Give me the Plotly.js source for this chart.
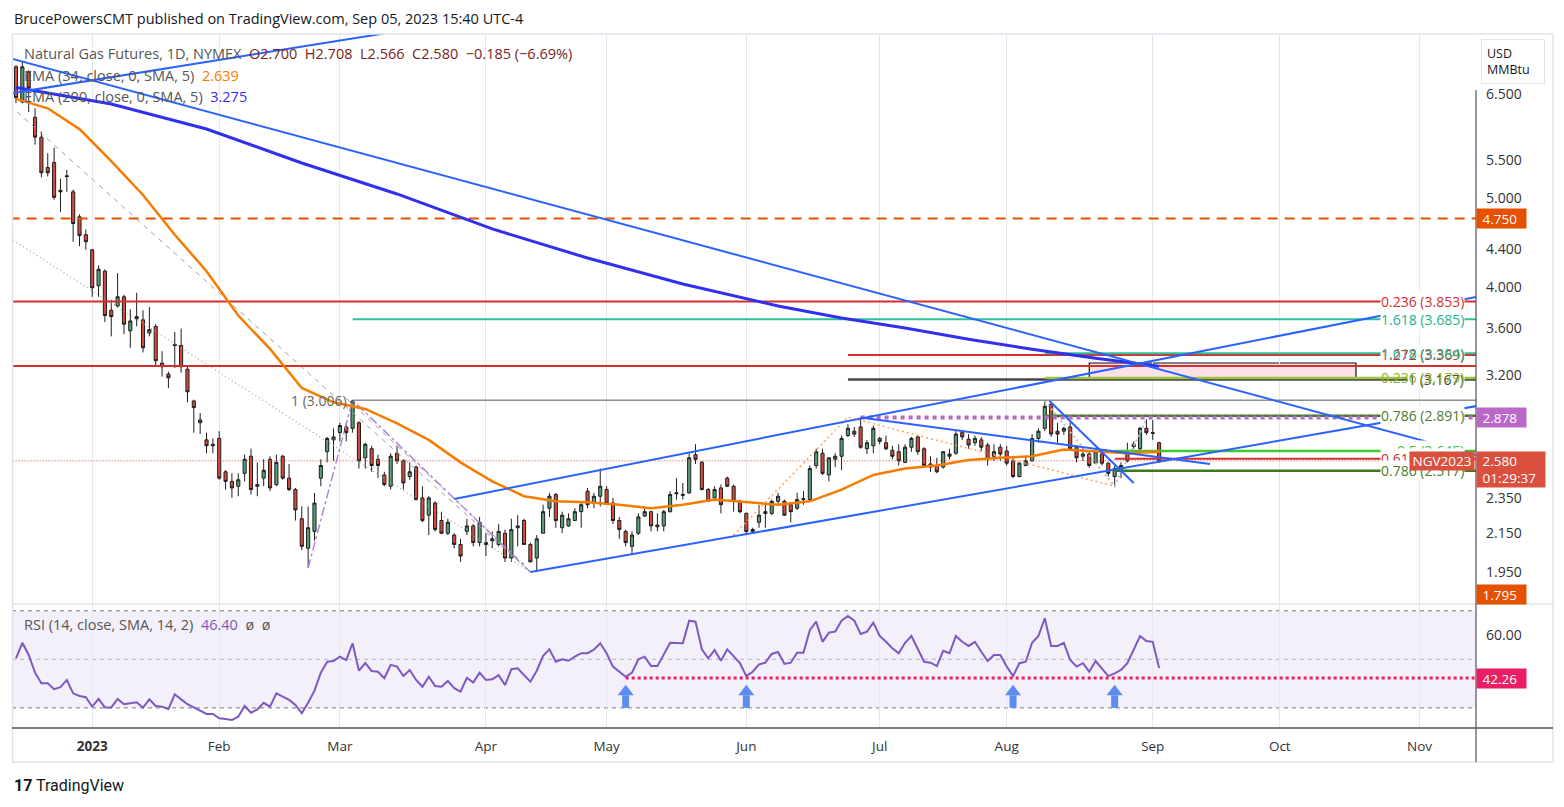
<!DOCTYPE html>
<html><head><meta charset="utf-8">
<script src="https://cdn.plot.ly/plotly-3.0.1.min.js"></script>
<style>html,body{margin:0;padding:0;background:#fff;}#chart{width:1564px;height:807px;}</style>
</head><body><div id="chart"></div>
<script>
// ---------- DATA ----------
const holidays = ['2022-12-26','2023-01-02','2023-01-16','2023-02-20','2023-04-07','2023-05-29','2023-06-19','2023-07-04','2023-09-04'];
const firstBar = '2022-12-14';
// daily OHLC, NGV2023 (Dec 14 2022 .. Sep 5 2023)
const open = [
 6.96,6.37,6.87,6.13,5.83,5.40,5.47,5.10,5.29,5.08,4.77,4.56,
 4.39,4.01,4.16,3.77,3.81,3.90,3.58,3.69,3.68,3.56,3.62,3.30,3.21,3.46,3.45,3.25,3.00,2.86,2.72,2.69,
 2.73,2.51,2.45,2.42,2.50,2.61,2.42,2.47,2.59,2.43,2.61,2.47,2.40,2.23,2.07,2.16,2.47,2.64,2.72,
 2.77,2.81,2.80,2.84,2.60,2.66,2.59,2.49,2.42,2.63,2.58,2.48,2.54,2.35,2.25,2.32,2.22,2.15,2.14,2.09,2.16,2.19,2.10,
 2.09,2.12,2.09,2.15,2.02,2.18,2.22,2.09,2.02,2.15,2.29,2.37,2.18,2.19,2.22,2.27,2.39,2.32,2.36,
 2.40,2.32,2.22,2.16,2.08,2.15,2.245,2.27,2.185,2.19,2.27,2.375,2.365,2.38,2.62,2.57,2.40,2.35,2.41,2.47,2.42,2.33,
 2.26,2.16,2.21,2.27,2.26,2.33,2.33,2.31,2.29,2.34,2.34,2.55,2.63,2.49,2.59,2.61,2.75,2.78,2.81,2.66,2.68,
 2.73,2.70,2.65,2.64,2.57,2.67,2.74,2.66,2.56,2.55,2.54,2.625,2.63,2.77,2.725,2.70,2.72,2.685,2.61,2.67,
 2.645,2.58,2.48,2.55,2.58,2.73,2.80,2.975,2.78,2.78,2.81,2.67,2.61,2.625,2.565,2.625,2.565,2.48,2.51,2.64,2.69,2.66,2.80,
 2.77,2.700];
const high = [
 6.99,7.05,6.90,6.27,5.91,5.60,5.68,5.25,5.37,5.11,4.80,4.62,
 4.40,4.22,4.18,3.87,4.14,3.92,3.78,3.94,3.77,3.80,3.64,3.40,3.23,3.57,3.60,3.27,3.01,2.91,2.77,2.73,
 2.78,2.52,2.50,2.50,2.62,2.66,2.57,2.59,2.61,2.62,2.62,2.56,2.41,2.30,2.30,2.38,2.59,2.74,2.80,
 2.84,2.84,3.006,2.85,2.70,2.68,2.62,2.51,2.63,2.68,2.59,2.57,2.55,2.42,2.36,2.33,2.27,2.23,2.15,2.12,2.23,2.20,2.24,
 2.15,2.16,2.20,2.17,2.23,2.25,2.23,2.10,2.14,2.31,2.38,2.38,2.27,2.26,2.29,2.32,2.41,2.38,2.53,
 2.42,2.35,2.24,2.17,2.16,2.26,2.30,2.275,2.26,2.28,2.39,2.47,2.44,2.63,2.69,2.58,2.41,2.42,2.43,2.48,2.43,2.34,
 2.265,2.18,2.31,2.32,2.34,2.38,2.34,2.32,2.38,2.39,2.55,2.66,2.66,2.60,2.63,2.75,2.83,2.81,2.878,2.72,2.82,
 2.74,2.75,2.68,2.69,2.69,2.74,2.75,2.67,2.61,2.60,2.645,2.66,2.78,2.78,2.76,2.75,2.74,2.70,2.69,2.69,
 2.68,2.60,2.58,2.61,2.76,2.80,3.00,2.99,2.84,2.81,2.85,2.68,2.665,2.64,2.645,2.64,2.57,2.55,2.57,2.70,2.71,2.81,2.865,
 2.86,2.708];
const low = [
 6.35,6.35,6.21,5.72,5.27,5.28,4.98,4.83,5.08,4.48,4.43,4.39,
 3.90,3.90,3.66,3.53,3.80,3.55,3.43,3.62,3.39,3.53,3.27,3.19,3.10,3.26,3.22,2.99,2.77,2.76,2.63,2.63,
 2.46,2.40,2.35,2.36,2.45,2.37,2.36,2.42,2.39,2.42,2.46,2.39,2.22,2.06,1.97,2.11,2.42,2.57,2.58,
 2.71,2.71,2.77,2.53,2.53,2.51,2.47,2.42,2.40,2.56,2.40,2.46,2.335,2.21,2.14,2.16,2.145,2.14,2.07,2.00,2.14,2.08,2.08,
 2.03,2.07,2.08,2.00,2.00,2.08,2.09,2.00,1.95,2.15,2.24,2.18,2.15,2.185,2.22,2.18,2.29,2.29,2.30,
 2.31,2.20,2.12,2.08,2.04,2.14,2.24,2.16,2.16,2.16,2.265,2.34,2.34,2.375,2.56,2.395,2.325,2.33,2.26,2.415,2.27,2.26,
 2.15,2.155,2.18,2.18,2.25,2.31,2.245,2.21,2.28,2.31,2.335,2.53,2.49,2.45,2.54,2.52,2.74,2.74,2.66,2.625,2.63,
 2.69,2.65,2.59,2.55,2.565,2.64,2.62,2.54,2.51,2.50,2.53,2.59,2.62,2.72,2.66,2.68,2.645,2.55,2.58,2.58,
 2.55,2.47,2.475,2.545,2.575,2.70,2.78,2.74,2.70,2.755,2.655,2.57,2.58,2.535,2.56,2.55,2.48,2.42,2.47,2.57,2.66,2.65,2.755,
 2.72,2.566];
const close = [
 6.44,6.96,6.60,5.83,5.33,5.33,5.01,5.08,5.28,4.69,4.55,4.48,
 3.99,4.18,3.72,3.71,3.90,3.64,3.67,3.71,3.43,3.59,3.32,3.27,3.18,3.45,3.27,3.07,2.95,2.84,2.68,2.68,
 2.47,2.45,2.41,2.46,2.59,2.40,2.43,2.52,2.41,2.57,2.47,2.40,2.28,2.08,2.18,2.32,2.55,2.73,2.74,
 2.82,2.77,3.00,2.58,2.69,2.55,2.55,2.43,2.61,2.58,2.44,2.51,2.34,2.22,2.35,2.17,2.15,2.21,2.09,2.03,2.19,2.10,2.21,
 2.10,2.11,2.16,2.02,2.17,2.19,2.09,2.00,2.12,2.27,2.36,2.22,2.25,2.23,2.27,2.31,2.31,2.36,2.42,
 2.32,2.22,2.17,2.10,2.14,2.24,2.27,2.19,2.195,2.27,2.37,2.38,2.37,2.60,2.59,2.40,2.33,2.40,2.31,2.42,2.33,2.27,
 2.16,2.17,2.25,2.26,2.33,2.36,2.25,2.27,2.34,2.345,2.53,2.64,2.50,2.60,2.61,2.73,2.80,2.76,2.67,2.70,2.80,
 2.71,2.66,2.61,2.58,2.67,2.73,2.64,2.55,2.54,2.51,2.64,2.61,2.76,2.74,2.685,2.73,2.67,2.59,2.64,2.625,
 2.565,2.48,2.565,2.58,2.73,2.78,2.96,2.76,2.76,2.80,2.66,2.60,2.625,2.55,2.64,2.565,2.50,2.53,2.55,2.58,2.675,2.80,2.77,
 2.765,2.580];
// RSI(14) one value per bar
const rsi = [
 50.4,56.8,51.8,44.5,40.1,40.1,37.7,38.5,41.5,36.0,34.9,34.4,
 30.5,33.7,30.2,30.2,33.7,31.5,31.9,32.3,30.1,33.5,30.8,30.5,29.5,35.6,33.5,31.5,30.2,28.8,27.5,27.5,
 25.7,25.4,25.0,26.4,30.8,28.0,29.4,32.1,30.5,36.0,34.6,33.3,31.2,27.8,32.1,37.1,44.5,49.0,49.3,
 51.1,49.7,56.6,45.3,48.4,45.2,44.9,42.2,47.7,47.0,43.1,45.6,41.5,38.7,42.8,39.0,38.7,41.1,38.1,36.7,42.4,40.4,44.5,
 41.5,41.8,43.5,39.4,45.9,46.3,43.5,40.8,45.3,51.4,54.1,49.0,50.0,49.4,51.1,52.5,52.5,54.0,56.6,
 52.5,47.0,44.9,42.8,44.5,50.0,51.1,47.2,47.2,51.8,56.8,56.7,56.6,65.9,65.5,54.1,50.4,53.8,49.4,54.1,51.1,48.4,
 43.1,44.9,47.9,48.6,52.2,53.0,48.1,48.6,52.7,52.7,62.0,65.5,57.2,61.0,61.4,65.9,67.8,65.9,60.4,61.4,65.1,
 59.6,57.2,54.5,52.5,56.8,59.6,54.5,49.0,48.6,47.2,53.5,52.5,59.6,57.2,55.5,57.2,53.1,49.3,51.8,51.8,
 47.0,43.1,48.4,49.0,56.8,59.6,66.9,55.5,55.5,56.8,49.7,47.0,48.4,44.9,49.3,46.3,43.1,44.2,45.6,48.4,53.8,59.6,57.5,
 57.2,46.4];
// EMA 34 and EMA 200, read at every 5th/10th bar (bar index -> value)
const ema34Bar = [0,5,10,15,20,25,30,35,40,45,50,55,60,65,70,75,80,85,90,95,100,105,110,115,120,125,130,135,140,145,150,155,160,165,170,175,180];
const ema34Val = [6.42,6.27,5.95,5.49,5.04,4.56,4.16,3.72,3.42,3.10,2.99,2.94,2.835,2.72,2.57,2.45,2.36,2.33,2.325,2.31,2.29,2.31,2.34,2.325,2.31,2.33,2.40,2.49,2.53,2.55,2.585,2.60,2.61,2.655,2.645,2.63,2.639];
const ema200Bar = [0,15,30,45,60,75,90,105,120,130,140,150,160,170,180];
const ema200Val = [6.607,6.338,5.951,5.463,5.053,4.627,4.30,4.028,3.811,3.697,3.605,3.504,3.417,3.340,3.275];
// drawn trendlines [date, price]
const lineDescLong   = [['2022-12-13',7.115],['2023-11-14',2.617]];
const lineRiseLeft   = [['2022-12-13',6.508],['2023-03-14',7.61]];
const channelLow     = [['2023-04-13',1.95],['2023-11-14',2.962]];
const channelHigh    = [['2023-03-27',2.344],['2023-11-14',3.90]];
const lineFromJunHigh= [['2023-06-28',2.878],['2023-09-15',2.559]];
const lineFromAugHigh= [['2023-08-09 18:00',3.00],['2023-08-29',2.44]];
const greyDashLong   = [['2022-12-13',6.32],['2023-04-13',1.95]];
const greyDashShort  = [['2023-03-02',3.02],['2023-04-12',1.99]];
const greyDotLong    = [['2022-12-13',4.524],['2023-04-13',1.95]];
const purpleSwing    = [['2023-02-22',1.97],['2023-03-03',3.006],['2023-04-13',1.95]];
const orangeSwing    = [['2023-05-30',2.14],['2023-06-26',2.88],['2023-08-24',2.42]];
const greySwing      = [['2023-08-09',3.00],['2023-08-24',2.42],['2023-08-31',2.866]];
// horizontal levels
const levelPrice = [3.853,3.276,4.750,3.685,3.369,3.384,3.167,3.179,3.006,2.891,2.645,2.594,2.517,2.878,2.580];
const levelStart = ['2022-12-13','2022-12-13','2022-12-13','2023-03-03','2023-06-26','2023-08-09','2023-06-26','2023-08-09','2023-03-03','2023-08-09','2023-08-24','2023-08-24','2023-08-24','2023-06-28','2022-12-13'];
const levelLabel = ['0.236 (3.853)','','','1.618 (3.685)','1.272 (3.369)','1.618 (3.384)','1 (3.167)','0.236 (3.179)','','0.786 (2.891)','0.5 (2.645)','0.618 (2.594)','0.786 (2.517)','',''];
const zoneBox = {x0:'2023-08-18', x1:'2023-10-18', y0:3.179, y1:3.301};
const rsiArrowDates = ['2023-05-04','2023-06-01','2023-08-02','2023-08-24'];
const rsiLevel = 42.26, rsiLevelStart = '2023-05-04';
const lastPrice = 2.580;
const priceTicks = [1.95,2.15,2.35,3.2,3.6,4.0,4.4,5.0,5.5,6.5];
const monthTicks = ['2023-01-03','2023-02-01','2023-03-01','2023-04-03','2023-05-01','2023-06-01','2023-07-03','2023-08-01','2023-09-01','2023-10-02','2023-11-01'];
const monthLabels = ['<b>2023</b>','Feb','Mar','Apr','May','Jun','Jul','Aug','Sep','Oct','Nov'];

// ---------- BUILD ----------
function tradingDays(start, n){
  const out=[]; const d=new Date(start+'T00:00:00Z');
  while(out.length<n){
    const s=d.toISOString().slice(0,10), wd=d.getUTCDay();
    if(wd!==0&&wd!==6&&holidays.indexOf(s)<0) out.push(s);
    d.setUTCDate(d.getUTCDate()+1);
  }
  return out;
}
const dates = tradingDays(firstBar, close.length);
const END = '2023-11-14';
const PX = x => (x-12)/1464, PY = y => (728-y)/694;
const L10 = Math.log10;

const traces = [];
traces.push({type:'candlestick', x:dates, open:open, high:high, low:low, close:close,
  xaxis:'x', yaxis:'y', whiskerwidth:0, hoverinfo:'skip', showlegend:false,
  increasing:{line:{color:'#1e1e1e',width:1}, fillcolor:'#5a9e76'},
  decreasing:{line:{color:'#1e1e1e',width:1}, fillcolor:'#d24a3c'}});

function addLine(pts, color, width, dash, yaxis){
  traces.push({type:'scatter', mode:'lines', x:pts.map(p=>p[0]), y:pts.map(p=>p[1]),
    xaxis:'x', yaxis:yaxis||'y', line:{color:color, width:width, dash:dash||'solid'}, hoverinfo:'skip', showlegend:false});
}
const lvStyle = [
 ['#d32f2f',2,'solid'],['#d32f2f',2,'solid'],['#e65100',2,'10px,7px'],['#2bc29a',2,'solid'],
 ['#d32f2f',2,'solid'],['#2bc29a',2,'solid'],['#444444',2.5,'solid'],['#9dc43c',2.5,'solid'],
 ['#5a5a5a',1,'solid'],['#3c7a1d',2.5,'solid'],['#3ecb2a',2.5,'solid'],['#d32f2f',2,'solid'],
 ['#3c7a1d',2.5,'solid'],['#ba68c8',4,'dot'],['#d24a3c',1,'1px,2px']];
addLine([[levelStart[14],lastPrice],[END,lastPrice]], lvStyle[14][0], lvStyle[14][1], lvStyle[14][2]);
addLine(greyDotLong,'#a0a0a0',1.2,'1px,3px');
addLine(greyDashLong,'#a0a0a0',1,'5px,5px');
addLine(greyDashShort,'#a0a0a0',1,'5px,5px');
addLine(purpleSwing,'#b286d8',1.5,'dashdot');
addLine(orangeSwing,'#ffa25e',1.5,'2px,3px');
addLine(greySwing,'#bdbdbd',2,'2px,3px');
for(let i=0;i<14;i++) addLine([[levelStart[i],levelPrice[i]],[END,levelPrice[i]]], lvStyle[i][0], lvStyle[i][1], lvStyle[i][2]);
addLine(ema34Bar.map((b,i)=>[dates[b],ema34Val[i]]),'#f57c00',2.5);
addLine(ema200Bar.map((b,i)=>[dates[b],ema200Val[i]]),'#3030ee',3);
[lineDescLong,lineRiseLeft,channelLow,channelHigh,lineFromJunHigh,lineFromAugHigh].forEach(l=>addLine(l,'#2962ff',2));

// RSI
traces.push({type:'scatter',mode:'lines',x:dates,y:rsi,xaxis:'x',yaxis:'y2',line:{color:'#7e57c2',width:2},hoverinfo:'skip',showlegend:false});
addLine([[rsiLevelStart,rsiLevel],[END,rsiLevel]],'#e91e63',3,'dot','y2');
rsiArrowDates.forEach(d=>{
  traces.push({type:'scatter',mode:'lines',x:[d,d],y:[30,35.2],xaxis:'x',yaxis:'y2',line:{color:'#5b8def',width:7},hoverinfo:'skip',showlegend:false});
  traces.push({type:'scatter',mode:'markers',x:[d],y:[36.6],xaxis:'x',yaxis:'y2',marker:{symbol:'triangle-up',size:14,color:'#5b8def',line:{width:0}},hoverinfo:'skip',showlegend:false});
});

// ---------- LAYOUT ----------
const shapes = [
 {type:'rect',xref:'paper',yref:'y2',x0:0,x1:1,y0:30,y1:70,fillcolor:'rgba(126,87,194,0.09)',line:{width:0},layer:'below'},
 {type:'line',xref:'paper',yref:'y2',x0:0,x1:1,y0:70,y1:70,line:{color:'#787b86',width:1,dash:'4px,4px'},layer:'below'},
 {type:'line',xref:'paper',yref:'y2',x0:0,x1:1,y0:50,y1:50,line:{color:'#b2b5be',width:1,dash:'4px,4px'},layer:'below'},
 {type:'line',xref:'paper',yref:'y2',x0:0,x1:1,y0:30,y1:30,line:{color:'#787b86',width:1,dash:'4px,4px'},layer:'below'},
 {type:'rect',xref:'x',yref:'y',x0:zoneBox.x0,x1:zoneBox.x1,y0:zoneBox.y0,y1:zoneBox.y1,fillcolor:'rgba(252,205,212,0.6)',line:{color:'#111',width:1.2},layer:'below'},
 {type:'rect',xref:'paper',yref:'paper',x0:PX(12.5),x1:PX(1553),y0:PY(762),y1:PY(34),line:{color:'#e0e3eb',width:1.5}},
 {type:'line',xref:'paper',yref:'paper',x0:0,x1:PX(1553),y0:PY(604),y1:PY(604),line:{color:'#e0e3eb',width:1.5}},
 {type:'line',xref:'paper',yref:'paper',x0:0,x1:PX(1553),y0:0,y1:0,line:{color:'#50535e',width:1.5}},
 {type:'line',xref:'paper',yref:'paper',x0:1,x1:1,y0:PY(762),y1:PY(90),line:{color:'#50535e',width:1.2}}
];
const fibColors = {'0':'#d32f2f','3':'#22b58c','4':'#d32f2f','5':'#22b58c','6':'#444','7':'#8fb52e','9':'#4a7d2a','10':'#3ec22c','11':'#d32f2f','12':'#4a7d2a'};
const annotations = [];
const F = 'Open Sans, sans-serif';
for(let i=0;i<levelLabel.length;i++){
  if(!levelLabel[i]) continue;
  const second = (i===5||i===7);
  annotations.push({xref:'paper',yref:'y',x:PX(1465),y:L10(levelPrice[i]),xanchor:'right',yanchor:'middle',showarrow:false,
    text:levelLabel[i],font:{family:F,size:14,color:fibColors[String(i)]},bgcolor:second?'rgba(0,0,0,0)':'#ffffff',borderpad:0});
}
annotations.push({xref:'x',yref:'y',x:'2023-03-02 12:00',y:L10(3.006),xanchor:'right',yanchor:'middle',showarrow:false,text:'1 (3.006)',font:{family:F,size:14,color:'#666'}});
function axisBox(y, yref, text, bg, w, h){
  annotations.push({xref:'paper',yref:yref,x:1,y:y,xanchor:'left',yanchor:'middle',showarrow:false,text:text,
    font:{family:F,size:13.5,color:'#fff'},bgcolor:bg,borderpad:2,width:w,height:h,align:'left'});
}
axisBox(L10(4.750),'y','&nbsp;4.750','#e65100',45,15);
axisBox(L10(2.878),'y','&nbsp;2.878','#ba68c8',45,15);
axisBox(PY(469),'paper','&nbsp;2.580<br>&nbsp;01:29:37','#d9503f',64,31);
axisBox(PY(594),'paper','&nbsp;1.795','#e65100',45,15);
axisBox(rsiLevel,'y2','&nbsp;42.26','#e91e63',45,15);
annotations.push({xref:'paper',yref:'y',x:PX(1475),y:L10(lastPrice),xanchor:'right',yanchor:'middle',showarrow:false,text:'NGV2023',
  font:{family:F,size:13.5,color:'#fff'},bgcolor:'#d9503f',borderpad:2,width:60,height:14});
annotations.push({xref:'paper',yref:'paper',x:PX(1481),y:PY(39),xanchor:'left',yanchor:'top',showarrow:false,text:'USD<br>MMBtu',align:'left',
  font:{family:F,size:12.5,color:'#131722'},bgcolor:'#fff',bordercolor:'#e0e3eb',borderwidth:1,borderpad:5,width:52});
const sp='\u00a0';
annotations.push({xref:'paper',yref:'paper',x:0,y:PY(18),xanchor:'left',yanchor:'middle',showarrow:false,
  text:'BrucePowersCMT published on TradingView.com, Sep 05, 2023 15:40 UTC-4',font:{family:F,size:14.5,color:'#131722'}});
annotations.push({xref:'paper',yref:'paper',x:PX(22),y:PY(53),xanchor:'left',yanchor:'middle',showarrow:false,
  text:'<span style="color:#555">Natural Gas Futures, 1D, NYMEX</span>'+sp+sp+'<span style="color:#7a2323">O2.700'+sp+sp+'H2.708'+sp+sp+'L2.566'+sp+sp+'C2.580'+sp+sp+'\u22120.185 (\u22126.69%)</span>',
  font:{family:F,size:14.5}});
annotations.push({xref:'paper',yref:'paper',x:PX(22),y:PY(75),xanchor:'left',yanchor:'middle',showarrow:false,
  text:'<span style="color:#555">EMA (34, close, 0, SMA, 5)</span>'+sp+sp+'<span style="color:#f57c00">2.639</span>',font:{family:F,size:14.5}});
annotations.push({xref:'paper',yref:'paper',x:PX(22),y:PY(96),xanchor:'left',yanchor:'middle',showarrow:false,
  text:'<span style="color:#555">EMA (200, close, 0, SMA, 5)</span>'+sp+sp+'<span style="color:#3030ee">3.275</span>',font:{family:F,size:14.5}});
annotations.push({xref:'paper',yref:'paper',x:PX(22),y:PY(624),xanchor:'left',yanchor:'middle',showarrow:false,
  text:'<span style="color:#555">RSI (14, close, SMA, 14, 2)</span>'+sp+sp+'<span style="color:#7e57c2">46.40</span>'+sp+sp+'<span style="color:#555">\u00f8'+sp+sp+'\u00f8</span>',font:{family:F,size:14.5}});
annotations.push({xref:'paper',yref:'paper',x:0,y:PY(786),xanchor:'left',yanchor:'middle',showarrow:false,
  text:'<b>17</b> TradingView',font:{family:'Roboto, sans-serif',size:16,color:'#131722'}});

const layout = {
  width:1564, height:807, margin:{l:12,r:88,t:34,b:79,pad:0},
  paper_bgcolor:'#ffffff', plot_bgcolor:'#ffffff', showlegend:false, hovermode:false,
  font:{family:F,size:13,color:'#131722'},
  xaxis:{type:'date', range:['2022-12-13 08:53','2023-11-13 21:36'],
    rangebreaks:[{bounds:['sat','mon']},{values:holidays}],
    rangeslider:{visible:false}, anchor:'y2', tickmode:'array', tickvals:monthTicks, ticktext:monthLabels,
    showgrid:true, gridcolor:'#e6e8ef', gridwidth:1, zeroline:false, showline:false, ticks:'',
    tickfont:{family:F,size:13.5,color:'#333'}, ticklabelstandoff:8, fixedrange:true},
  yaxis:{type:'log', domain:[PY(604),1], range:[0.25503,0.87852], side:'right', anchor:'x',
    tickmode:'array', tickvals:priceTicks, ticktext:priceTicks.map(v=>v.toFixed(3)),
    showgrid:false, zeroline:false, showline:false, ticks:'', ticklabelstandoff:9,
    tickfont:{family:F,size:14,color:'#333'}, fixedrange:true},
  yaxis2:{domain:[0,PY(604)], range:[21.73,72.76], side:'right', anchor:'x',
    tickmode:'array', tickvals:[60], ticktext:['60.00'],
    showgrid:false, zeroline:false, showline:false, ticks:'', ticklabelstandoff:9,
    tickfont:{family:F,size:14,color:'#333'}, fixedrange:true},
  shapes:shapes, annotations:annotations
};
Plotly.newPlot('chart', traces, layout, {staticPlot:true, displayModeBar:false});
</script></body></html>
